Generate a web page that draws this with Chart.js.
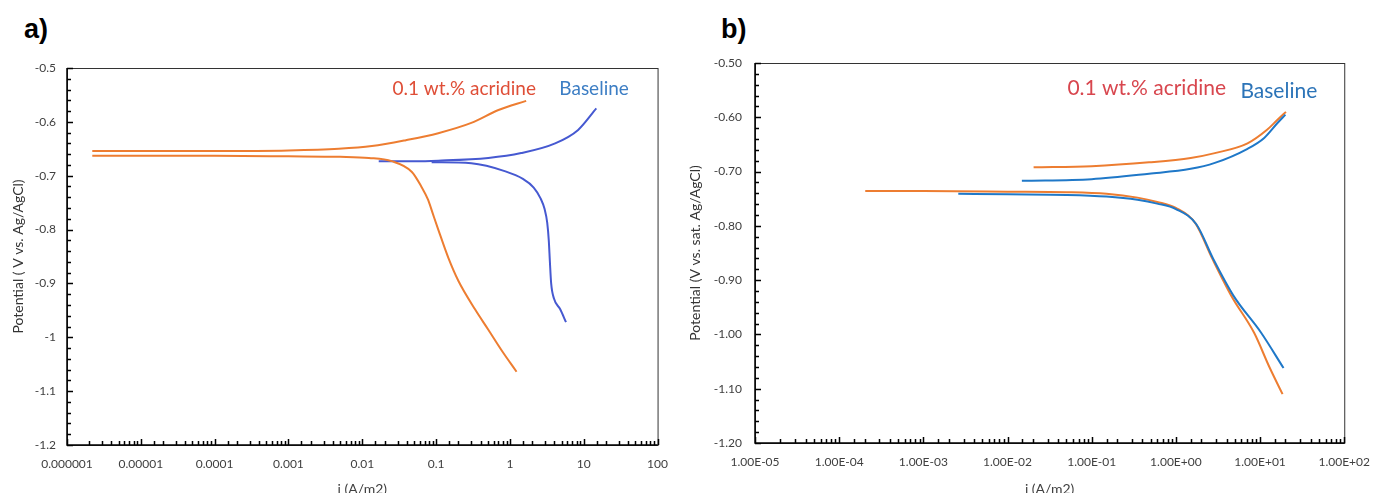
<!DOCTYPE html>
<html>
<head>
<meta charset="utf-8">
<script src="https://cdn.jsdelivr.net/npm/chart.js@4.4.1/dist/chart.umd.min.js"></script>
<style>
body { margin: 0; background: #fff; width: 1382px; height: 493px; overflow: hidden; position: relative; }
.panel { position: absolute; font: bold 27px 'Liberation Sans', Arial, sans-serif; line-height: 27px; color: #000; }
canvas { position: absolute; top: 0; }
</style>
</head>
<body>
<div class="panel" style="left:24px;top:16px">a)</div>
<div class="panel" style="left:721px;top:16px">b)</div>
<canvas id="chartA" width="680" height="493" style="left:0"></canvas>
<canvas id="chartB" width="702" height="493" style="left:680px"></canvas>
<script>
// tick labels (one per decade)
var decadeLabelsA = ['0.000001', '0.00001', '0.0001', '0.001', '0.01', '0.1', '1', '10', '100'];
var decadeLabelsB = ['1.00E-05', '1.00E-04', '1.00E-03', '1.00E-02', '1.00E-01', '1.00E+00', '1.00E+01', '1.00E+02'];

// panel a) : [i (A/m2), potential (V)]
var acridineAnodicA = [[2.2e-6,-0.654],[1e-5,-0.654],[1e-4,-0.654],[1e-3,-0.653],[0.0048,-0.650],[0.0135,-0.645],[0.039,-0.634],[0.107,-0.621],[0.30,-0.602],[0.70,-0.578],[1.66,-0.561]];
var acridineCathodicA = [[2.2e-6,-0.663],[1e-5,-0.663],[1e-4,-0.663],[1e-3,-0.664],[0.005,-0.665],[0.0123,-0.667],[0.025,-0.673],[0.047,-0.693],[0.063,-0.72],[0.078,-0.745],[0.09,-0.77],[0.107,-0.80],[0.147,-0.853],[0.20,-0.895],[0.34,-0.949],[0.51,-0.986],[0.77,-1.024],[1.23,-1.064]];
var baselineAnodicA = [[0.0167,-0.673],[0.05,-0.673],[0.107,-0.672],[0.51,-0.667],[1.42,-0.658],[4.1,-0.640],[8.4,-0.615],[14.8,-0.575]];
var baselineCathodicA = [[0.087,-0.675],[0.30,-0.677],[0.87,-0.692],[1.5,-0.706],[2.1,-0.722],[2.6,-0.742],[2.95,-0.762],[3.2,-0.787],[3.36,-0.82],[3.48,-0.86],[3.62,-0.90],[3.95,-0.928],[4.8,-0.948],[5.75,-0.972]];

// panel b)
var acridineAnodicB = [[0.0204,-0.692],[0.1,-0.690],[0.48,-0.683],[1.5,-0.675],[2.9,-0.666],[7.1,-0.648],[12.1,-0.623],[16,-0.605],[20.3,-0.590]];
var baselineAnodicB = [[0.0148,-0.717],[0.1,-0.714],[0.48,-0.704],[1.5,-0.695],[2.9,-0.684],[7.1,-0.658],[11.2,-0.638],[16,-0.611],[20,-0.595]];
var acridineCathodicB = [[0.000204,-0.736],[0.001,-0.736],[0.01,-0.737],[0.05,-0.738],[0.15,-0.741],[0.35,-0.748],[0.6,-0.756],[1.0,-0.767],[1.7,-0.795],[2.7,-0.86],[4.6,-0.93],[8.5,-0.997],[12.9,-1.06],[18.5,-1.11]];
var baselineCathodicB = [[0.0026,-0.741],[0.01,-0.742],[0.05,-0.743],[0.15,-0.746],[0.35,-0.752],[0.6,-0.759],[1.0,-0.769],[1.75,-0.797],[2.8,-0.862],[4.8,-0.928],[10.3,-0.997],[19,-1.062]];

var tickFont = { family: 'Lato, sans-serif', size: 12 };
var titleFont = { family: 'Lato, sans-serif', size: 14 };

function isDecade(v) {
	var l = Math.log10(v);
	return Math.abs(l - Math.round(l)) < 1e-9;
}

function toXY(arr) {
	return arr.map(function (p) { return { x: p[0], y: p[1] }; });
}

function series(arr, color) {
	return { data: toXY(arr), borderColor: color, borderWidth: 2, pointRadius: 0, showLine: true, cubicInterpolationMode: 'monotone', fill: false };
}

// plot frame, inward tick marks and curve labels
function framePlugin(notes, noteSize) {
	return {
		id: 'frame',
		afterDraw: function (chart) {
			var ctx = chart.ctx, a = chart.chartArea, x = chart.scales.x, y = chart.scales.y;
			ctx.save();
			ctx.strokeStyle = '#333';
			ctx.lineWidth = 1;
			ctx.strokeRect(a.left + 0.5, a.top + 0.5, a.right - a.left, a.bottom - a.top);
			ctx.strokeStyle = '#000';
			ctx.lineWidth = 1.5;
			ctx.beginPath();
			ctx.moveTo(a.left, a.top); ctx.lineTo(a.left, a.bottom); ctx.lineTo(a.right, a.bottom);
			x.ticks.forEach(function (t) {
				var px = Math.round(x.getPixelForValue(t.value)) + 0.5;
				var len = isDecade(t.value) ? 6 : 4;
				ctx.moveTo(px, a.bottom); ctx.lineTo(px, a.bottom - len);
			});
			y.ticks.forEach(function (t) {
				var py = Math.round(y.getPixelForValue(t.value)) + 0.5;
				var major = Math.abs(t.value * 10 - Math.round(t.value * 10)) < 1e-6;
				ctx.moveTo(a.left, py); ctx.lineTo(a.left + (major ? 6 : 4), py);
			});
			ctx.stroke();
			ctx.font = noteSize + 'px Lato, sans-serif';
			ctx.textAlign = 'center';
			ctx.textBaseline = 'middle';
			notes.forEach(function (n) {
				ctx.fillStyle = n.color;
				ctx.fillText(n.text, x.getPixelForValue(n.x), y.getPixelForValue(n.y));
			});
			ctx.restore();
		}
	};
}

function makeChart(id, opts) {
	var minExp = Math.round(Math.log10(opts.xMin));
	return new Chart(document.getElementById(id), {
		type: 'scatter',
		data: { datasets: opts.datasets },
		options: {
			responsive: false,
			animation: false,
			layout: { padding: opts.padding },
			plugins: { legend: { display: false }, tooltip: { enabled: false } },
			scales: {
				x: {
					type: 'logarithmic',
					min: opts.xMin, max: opts.xMax,
					grid: { display: false, drawTicks: false },
					border: { display: false },
					afterFit: function (s) { s.height = opts.xAxisHeight; },
					ticks: {
						autoSkip: false, maxRotation: 0, padding: opts.xTickPad,
						font: tickFont, color: '#404040',
						callback: function (v) {
							return isDecade(v) ? opts.xLabels[Math.round(Math.log10(v)) - minExp] : '';
						}
					},
					title: { display: true, text: 'i (A/m2)', font: titleFont, color: '#404040', padding: { top: 0, bottom: opts.xTitlePad } }
				},
				y: {
					min: -1.2, max: -0.5,
					grid: { display: false, drawTicks: false },
					border: { display: false },
					afterFit: function (s) { s.width = opts.yAxisWidth; },
					ticks: {
						stepSize: 0.02, autoSkip: false, padding: opts.yTickPad,
						font: tickFont, color: '#404040',
						callback: function (v) {
							if (Math.abs(v * 10 - Math.round(v * 10)) > 1e-6) return '';
							return opts.yFormat(v);
						}
					},
					title: { display: true, text: opts.yTitle, font: titleFont, color: '#333', padding: { top: opts.yTitlePad, bottom: 0 } }
				}
			}
		},
		plugins: [framePlugin(opts.notes, opts.noteSize)]
	});
}

makeChart('chartA', {
	xMin: 1e-6, xMax: 100,
	xLabels: decadeLabelsA,
	padding: { left: 0, right: 20, top: 68, bottom: 0 },
	xAxisHeight: 48, yAxisWidth: 67,
	xTickPad: 12, yTickPad: 11, xTitlePad: -5, yTitlePad: 10,
	yTitle: 'Potential ( V vs. Ag/AgCl)',
	yFormat: function (v) { return String(+v.toFixed(1)); },
	noteSize: 19,
	datasets: [
		series(acridineAnodicA, '#ED7D31'),
		series(acridineCathodicA, '#ED7D31'),
		series(baselineAnodicA, '#4659D1'),
		series(baselineCathodicA, '#4659D1')
	],
	notes: [
		{ text: '0.1 wt.% acridine', x: 0.24, y: -0.539, color: '#DF4E37' },
		{ text: 'Baseline', x: 13.8, y: -0.539, color: '#3D7EC4' }
	]
});

makeChart('chartB', {
	xMin: 1e-5, xMax: 100,
	xLabels: decadeLabelsB,
	padding: { left: 0, right: 31, top: 63, bottom: 0 },
	xAxisHeight: 50, yAxisWidth: 75,
	xTickPad: 12, yTickPad: 13, xTitlePad: -5, yTitlePad: 7,
	yTitle: 'Potential (V vs. sat. Ag/AgCl)',
	yFormat: function (v) { return v.toFixed(2); },
	noteSize: 21,
	datasets: [
		series(baselineAnodicB, '#1F78C8'),
		series(baselineCathodicB, '#1F78C8'),
		series(acridineAnodicB, '#ED7D31'),
		series(acridineCathodicB, '#ED7D31')
	],
	notes: [
		{ text: '0.1 wt.% acridine', x: 0.45, y: -0.546, color: '#D8464E' },
		{ text: 'Baseline', x: 16.7, y: -0.552, color: '#2C74B8' }
	]
});
</script>
</body>
</html>
